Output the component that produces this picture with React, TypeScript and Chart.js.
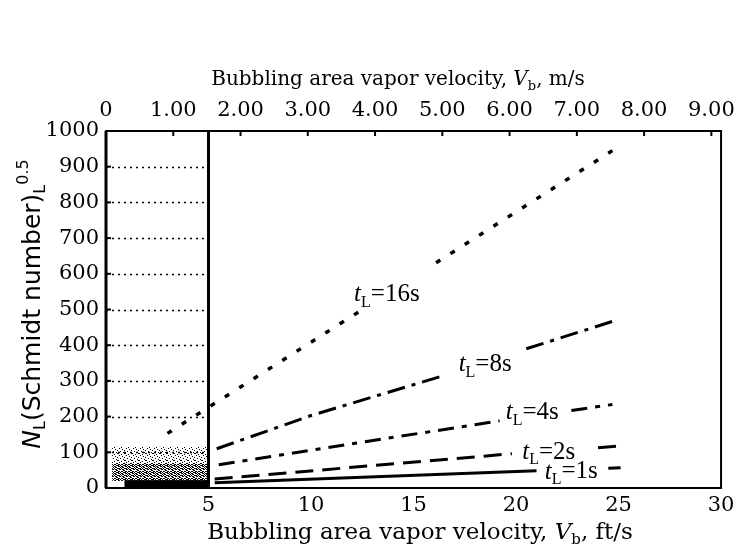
import React, { useEffect, useRef } from 'react';
import { Chart, registerables } from 'chart.js';

Chart.register(...registerables);

const FT_PER_M = 3.2808;

// Axis ticks: bottom in ft/s, top in m/s, left N_L(Sc)^0.5
const ftTicks = [0, 5, 10, 15, 20, 25, 30];
const mTicks = [0, 1, 2, 3, 4, 5, 6, 7, 8, 9];
const yTicks = [0, 100, 200, 300, 400, 500, 600, 700, 800, 900, 1000];

// Liquid residence-time curves (x = vapor velocity ft/s). A null breaks the line where its label sits.
const curveNames = ['16s', '8s', '4s', '2s', '1s'];
const x16 = [3, 12.4, 14, 16.1, 24.7];
const y16 = [153, 496, null, 631, 945];
const x8 = [5.4, 10, 16.3, 18.5, 20.5, 25];
const y8 = [110, 203, 312, null, 390, 472];
const x4 = [5.5, 12, 19.2, 21, 22.7, 24.7];
const y4 = [65, 124, 188, null, 217, 234];
const x2 = [5.3, 19.8, 22, 24, 25.1];
const y2 = [25, 96, null, 113, 118];
const x1 = [5.3, 21, 23, 24.5, 25.1];
const y1 = [15, 48, null, 55, 57];

const seriesX = [x16, x8, x4, x2, x1];
const seriesY = [y16, y8, y4, y2, y1];

type Run = { t: string; it?: boolean; sub?: boolean; sup?: boolean };

function drawRich(
  ctx: CanvasRenderingContext2D,
  runs: Run[],
  x: number,
  y: number,
  size: number,
  family: string,
  align: 'left' | 'center',
  rotate = false
) {
  const fontFor = (r: Run) =>
    `${r.it ? 'italic ' : ''}${r.sub || r.sup ? Math.round(size * 0.65) : size}px ${family}`;
  ctx.save();
  ctx.translate(x, y);
  if (rotate) ctx.rotate(-Math.PI / 2);
  ctx.fillStyle = '#000';
  ctx.textAlign = 'left';
  ctx.textBaseline = 'middle';
  const widths = runs.map((r) => {
    ctx.font = fontFor(r);
    return ctx.measureText(r.t).width;
  });
  const total = widths.reduce((s, w) => s + w, 0);
  let cx = align === 'center' ? -total / 2 : 0;
  runs.forEach((r, i) => {
    ctx.font = fontFor(r);
    const dy = r.sub ? size * 0.32 : r.sup ? -size * 0.38 : 0;
    ctx.fillText(r.t, cx, dy);
    cx += widths[i];
  });
  ctx.restore();
}

// label anchors in data units (left edge, vertical middle)
const labelAnchors: [number, number][] = [
  [12.1, 542],
  [17.2, 345],
  [19.5, 211],
  [20.3, 101],
  [21.4, 45],
];

function makeSpecklePattern(ctx: CanvasRenderingContext2D, cells: number[][]) {
  const c = document.createElement('canvas');
  c.width = 7;
  c.height = 7;
  const p = c.getContext('2d')!;
  p.fillStyle = '#000';
  cells.forEach(([cx, cy]) => p.fillRect(cx, cy, 1, 1));
  return ctx.createPattern(c, 'repeat');
}

const denseCells = [
  [0, 0], [1, 0], [3, 0], [4, 0], [4, 1], [5, 1], [0, 2], [2, 2], [3, 2], [6, 2],
  [1, 3], [4, 3], [5, 3], [6, 3], [0, 4], [2, 4], [3, 4], [6, 4], [1, 5], [3, 5], [4, 5],
  [0, 6], [2, 6], [5, 6], [6, 6],
];
const lightCells = [
  [0, 0], [3, 1], [5, 2], [1, 3], [4, 4], [6, 5], [2, 6], [5, 5],
];

const decor = {
  id: 'decor',
  beforeDatasetsDraw(chart: any) {
    const { ctx, scales } = chart;
    const xs = scales.x;
    const ys = scales.y;
    const x0 = xs.getPixelForValue(0);
    const x5 = xs.getPixelForValue(5);
    const band = (pat: any, xa: number, v0: number, v1: number) => {
      if (!pat) return;
      ctx.fillStyle = pat;
      const left = xs.getPixelForValue(xa);
      ctx.fillRect(left, ys.getPixelForValue(v1), x5 - left, ys.getPixelForValue(v0) - ys.getPixelForValue(v1));
    };

    // speckled dark band at the foot of the low-velocity region
    ctx.save();
    band(makeSpecklePattern(ctx, lightCells), 0.3, 70, 115);
    band(makeSpecklePattern(ctx, denseCells), 0.3, 20, 70);
    ctx.fillStyle = '#000';
    ctx.fillRect(xs.getPixelForValue(0.9), ys.getPixelForValue(22), x5 - xs.getPixelForValue(0.9), ys.getPixelForValue(0) - ys.getPixelForValue(22));
    ctx.restore();

    // dotted rulings inside the 0-5 ft/s region
    ctx.save();
    ctx.strokeStyle = '#000';
    ctx.lineWidth = 1.6;
    ctx.setLineDash([2, 4]);
    yTicks.slice(1, -1).forEach((v) => {
      const y = Math.round(ys.getPixelForValue(v)) + 0.5;
      ctx.beginPath();
      ctx.moveTo(x0, y);
      ctx.lineTo(x5, y);
      ctx.stroke();
    });
    ctx.restore();
  },
  afterDatasetsDraw(chart: any) {
    const { ctx, chartArea: a, scales } = chart;
    const xs = scales.x;
    const ys = scales.y;
    const xt = scales.x2;

    ctx.save();
    ctx.strokeStyle = '#000';
    ctx.lineWidth = 2;
    ctx.strokeRect(a.left, a.top, a.right - a.left, a.bottom - a.top);
    ctx.lineWidth = 3;
    ctx.beginPath();
    ctx.moveTo(a.left, a.top);
    ctx.lineTo(a.left, a.bottom);
    const x5 = xs.getPixelForValue(5);
    ctx.moveTo(x5, a.top);
    ctx.lineTo(x5, a.bottom);
    ctx.stroke();

    // inward tick marks along the top (m/s) and left edges
    ctx.lineWidth = 2;
    mTicks.forEach((v) => {
      const x = xt.getPixelForValue(v);
      ctx.beginPath();
      ctx.moveTo(x, a.top);
      ctx.lineTo(x, a.top + 5);
      ctx.stroke();
    });
    yTicks.forEach((v) => {
      const y = ys.getPixelForValue(v);
      ctx.beginPath();
      ctx.moveTo(a.left, y);
      ctx.lineTo(a.left + 5, y);
      ctx.stroke();
    });
    ctx.restore();

    curveNames.forEach((n, i) => {
      const [lx, ly] = labelAnchors[i];
      drawRich(
        ctx,
        [{ t: 't', it: true }, { t: 'L', sub: true }, { t: '=' + n }],
        xs.getPixelForValue(lx),
        ys.getPixelForValue(ly),
        25,
        '"Liberation Serif", serif',
        'left'
      );
    });
  },
  afterDraw(chart: any) {
    const { ctx } = chart;
    drawRich(
      ctx,
      [{ t: 'Bubbling area vapor velocity, ' }, { t: 'V', it: true }, { t: 'b', sub: true }, { t: ', m/s' }],
      398,
      80,
      20,
      '"DejaVu Serif", serif',
      'center'
    );
    drawRich(
      ctx,
      [{ t: 'Bubbling area vapor velocity, ' }, { t: 'V', it: true }, { t: 'b', sub: true }, { t: ', ft/s' }],
      420,
      533,
      23,
      '"DejaVu Serif", serif',
      'center'
    );
    drawRich(
      ctx,
      [{ t: 'N', it: true }, { t: 'L', sub: true }, { t: '(Schmidt number)' }, { t: 'L', sub: true }, { t: '0.5', sup: true }],
      33,
      304,
      25,
      '"DejaVu Sans", sans-serif',
      'center',
      true
    );
  },
};

const dashes = [[5, 12], [18, 7, 4, 7], [16, 8, 5, 8], [18, 9], []];
const widths = [3.5, 3, 3, 3, 3];

export default function App() {
  const ref = useRef<HTMLCanvasElement | null>(null);

  useEffect(() => {
    document.body.style.margin = '0';
    const canvas = ref.current;
    if (!canvas) return;
    const tickFont = { family: '"DejaVu Serif", serif', size: 21 };

    const chart = new Chart(canvas, {
      type: 'line',
      data: {
        datasets: curveNames.map((n, i) => ({
          label: 't_L=' + n,
          data: seriesX[i].map((x, j) => ({ x, y: seriesY[i][j] })),
          borderColor: '#000',
          borderWidth: widths[i],
          borderDash: dashes[i],
          borderCapStyle: 'butt',
          pointRadius: 0,
          tension: 0,
          spanGaps: false,
          fill: false,
        })),
      },
      options: {
        animation: false,
        responsive: true,
        maintainAspectRatio: false,
        layout: { padding: { left: 0, right: 16, top: 0, bottom: 0 } },
        plugins: { legend: { display: false }, tooltip: { enabled: false }, title: { display: false } },
        scales: {
          x: {
            type: 'linear',
            position: 'bottom',
            min: 0,
            max: 30,
            afterBuildTicks: (s: any) => {
              s.ticks = ftTicks.map((value) => ({ value }));
            },
            afterFit: (s: any) => {
              s.height = 65;
            },
            ticks: {
              font: tickFont,
              color: '#000',
              padding: 5,
              maxRotation: 0,
              autoSkip: false,
              callback: (v: any) => (v === 0 ? '' : String(v)),
            },
            grid: { display: false, drawTicks: false },
            border: { display: false },
          },
          x2: {
            type: 'linear',
            position: 'top',
            min: 0,
            max: 30 / FT_PER_M,
            afterBuildTicks: (s: any) => {
              s.ticks = mTicks.map((value) => ({ value }));
            },
            afterFit: (s: any) => {
              s.height = 131;
            },
            ticks: {
              font: tickFont,
              color: '#000',
              padding: 8,
              maxRotation: 0,
              autoSkip: false,
              callback: (v: any) => (v === 0 ? '0' : Number(v).toFixed(2)),
            },
            grid: { display: false, drawTicks: false },
            border: { display: false },
          },
          y: {
            type: 'linear',
            min: 0,
            max: 1000,
            afterBuildTicks: (s: any) => {
              s.ticks = yTicks.map((value) => ({ value }));
            },
            afterFit: (s: any) => {
              s.width = 106;
            },
            ticks: {
              font: tickFont,
              color: '#000',
              padding: 7,
              autoSkip: false,
              callback: (v: any) => String(v),
            },
            grid: { display: false, drawTicks: false },
            border: { display: false },
          },
        },
      } as any,
      plugins: [decor],
    });
    return () => chart.destroy();
  }, []);

  return (
    <div style={{ position: 'absolute', left: 0, top: 0, width: 743, height: 553, background: '#fff' }}>
      <canvas ref={ref} />
    </div>
  );
}
